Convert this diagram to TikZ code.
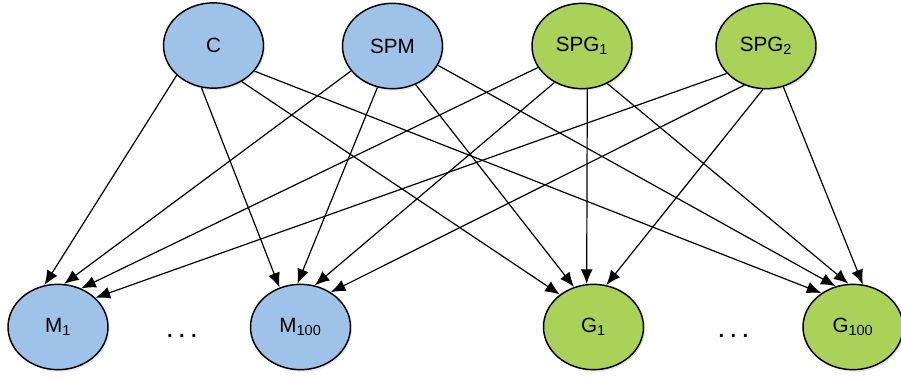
\documentclass[tikz,border=0pt]{standalone}
\usepackage{fontspec}
\setmainfont{Liberation Sans}
\usetikzlibrary{shapes.geometric,arrows.meta,shadows}

\definecolor{nodeblue}{RGB}{159,195,232}
\definecolor{nodegreen}{RGB}{170,209,88}

\tikzset{
    var/.style={ellipse, draw, line width=1.1pt, minimum width=75pt, minimum height=64pt,
        inner sep=0pt, font=\fontsize{15.5}{18}\selectfont,
        drop shadow={opacity=0.2, shadow xshift=1.2pt, shadow yshift=-1.5pt}},
    etc/.style={font=\fontsize{22}{24}\selectfont, anchor=base, inner sep=0pt},
    dep/.style={-{Latex[length=11pt,width=9pt]}, line width=0.9pt}
}

\begin{document}
\begin{tikzpicture}[x=0.75pt, y=-0.75pt]
        \useasboundingbox (0,0) rectangle (901,380);
        \node[var, fill=nodeblue] (C) at (213.5,45.5) {C};
        \node[var, fill=nodeblue] (SPM) at (392.5,46) {SPM};
        \node[var, fill=nodegreen] (SPG1) at (582,46) {SPG\textsubscript{1}};
        \node[var, fill=nodegreen] (SPG2) at (766,46) {SPG\textsubscript{2}};
        \node[var, fill=nodeblue] (M1) at (58,327) {M\textsubscript{1}};
        \node[var, fill=nodeblue] (M100) at (300.5,327) {M\textsubscript{100}};
        \node[var, fill=nodegreen] (G1) at (593.5,327) {G\textsubscript{1}};
        \node[var, fill=nodegreen] (G100) at (853,327) {G\textsubscript{100}};
        \node[etc] (dotsM) at (182,337) {.\hspace{2.9pt}.\hspace{2.9pt}.};
        \node[etc] (dotsG) at (733.5,337) {.\hspace{2.9pt}.\hspace{2.9pt}.};
        % parents to M nodes
        \draw[dep] (C.219) -- (M1.108);
        \draw[dep] (SPM.211) -- (M1.82);
        \draw[dep] (SPG1.206) -- (M1.59);
        \draw[dep] (SPG2.215) -- (M1.38);
        \draw[dep] (C.254) -- (M100.118);
        \draw[dep] (SPM.250) -- (M100.94);
        \draw[dep] (SPG1.233) -- (M100.71);
        \draw[dep] (SPG2.241) -- (M100.49);
        % parents to G nodes
        \draw[dep] (C.308) -- (G1.136);
        \draw[dep] (SPM.301) -- (G1.116);
        \draw[dep] (SPG1.277) -- (G1.99);
        \draw[dep] (SPG2.266) -- (G1.73);
        \draw[dep] (C.328) -- (G100.133);
        \draw[dep] (SPM.337) -- (G100.113);
        \draw[dep] (SPG1.304) -- (G100.96);
        \draw[dep] (SPG2.293) -- (G100.77);
    \end{tikzpicture}
\end{document}
